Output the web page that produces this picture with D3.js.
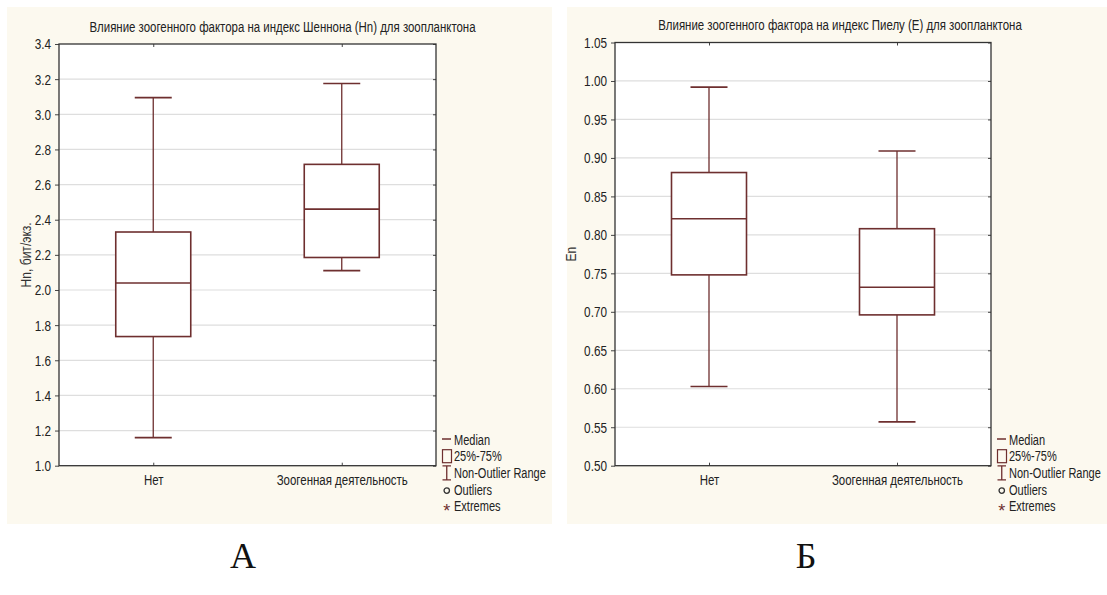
<!DOCTYPE html>
<html><head><meta charset="utf-8">
<script src="https://cdn.jsdelivr.net/npm/d3@7"></script>
<style>
html,body{margin:0;padding:0;background:#fff;}
svg{display:block;}
text{font-family:"Liberation Sans Narrow","Arial Narrow","Liberation Sans",Arial,sans-serif;}
</style></head>
<body>
<svg id="chart" width="1107" height="595"></svg>
<script>
// ---- data ----
const categories = ["Нет", "Зоогенная деятельность"];

const shannonMin    = [1.16, 2.11];
const shannonQ1     = [1.735, 2.185];
const shannonMedian = [2.04, 2.46];
const shannonQ3     = [2.33, 2.715];
const shannonMax    = [3.095, 3.175];
const shannonTicks  = [1.0, 1.2, 1.4, 1.6, 1.8, 2.0, 2.2, 2.4, 2.6, 2.8, 3.0, 3.2, 3.4];

const pielouMin    = [0.603, 0.557];
const pielouQ1     = [0.748, 0.696];
const pielouMedian = [0.821, 0.732];
const pielouQ3     = [0.881, 0.808];
const pielouMax    = [0.992, 0.909];
const pielouTicks  = [0.50, 0.55, 0.60, 0.65, 0.70, 0.75, 0.80, 0.85, 0.90, 0.95, 1.00, 1.05];

const legendLabels = ["Median", "25%-75%", "Non-Outlier Range", "Outliers", "Extremes"];

const titleA = "Влияние зоогенного фактора на индекс Шеннона (Hn) для зоопланктона";
const titleB = "Влияние зоогенного фактора на индекс Пиелу (E) для зоопланктона";
const yLabelA = "Hn, бит/экз.";
const yLabelB = "En";
const panelLetters = ["А", "Б"];

// ---- drawing ----
const svg = d3.select("#chart");
const BOX = "#6e2f2f";

// horizontally condense text around its anchor point (no narrow font installed)
function condense(sel, k) {
  sel.each(function () {
    const t = d3.select(this);
    const x = +t.attr("x") || 0, y = +t.attr("y") || 0;
    const prev = t.attr("transform") || "";
    t.attr("transform", `${prev} translate(${x},${y}) scale(${k},1) translate(${-x},${-y})`);
  });
}

function drawPanel(o) {
  const g = svg.append("g");
  g.append("rect").attr("x", o.bg[0]).attr("y", o.bg[1]).attr("width", o.bg[2]).attr("height", o.bg[3])
    .attr("fill", "#fcf9ef");

  const x = d3.scalePoint().domain(categories).range([o.left, o.right]).padding(0.5);
  const y = d3.scaleLinear().domain(o.domain).range([o.bottom, o.top]);

  g.append("rect").attr("x", o.left).attr("y", o.top).attr("width", o.right - o.left)
    .attr("height", o.bottom - o.top).attr("fill", "#fff");

  // gridlines
  g.append("g").selectAll("line").data(o.ticks.slice(1, -1)).join("line")
    .attr("x1", o.left).attr("x2", o.right)
    .attr("y1", d => y(d)).attr("y2", d => y(d))
    .attr("stroke", "#dedede").attr("stroke-width", 1.2);

  // left axis
  const ay = g.append("g").attr("transform", `translate(${o.left},0)`)
    .call(d3.axisLeft(y).tickValues(o.ticks).tickFormat(d3.format(o.fmt)).tickSize(4).tickPadding(4));
  ay.select(".domain").remove();
  ay.selectAll("line").attr("stroke", "#444");
  ay.selectAll("text").attr("font-size", 15.5).attr("fill", "#222").call(condense, 0.76);

  // right inner ticks
  const ar = g.append("g").attr("transform", `translate(${o.right},0)`)
    .call(d3.axisLeft(y).tickValues(o.ticks).tickFormat("").tickSize(3));
  ar.select(".domain").remove();
  ar.selectAll("line").attr("stroke", "#444");

  // bottom axis
  const ax = g.append("g").attr("transform", `translate(0,${o.bottom})`)
    .call(d3.axisBottom(x).tickSize(-3).tickPadding(9));
  ax.select(".domain").remove();
  ax.selectAll("line").attr("stroke", "#444");
  ax.selectAll("text").attr("font-size", 15).attr("fill", "#222").call(condense, 0.765);
  const at = g.append("g").attr("transform", `translate(0,${o.top})`)
    .call(d3.axisTop(x).tickSize(-3).tickFormat(""));
  at.select(".domain").remove();
  at.selectAll("line").attr("stroke", "#444");

  // frame
  g.append("rect").attr("x", o.left).attr("y", o.top).attr("width", o.right - o.left)
    .attr("height", o.bottom - o.top).attr("fill", "none").attr("stroke", "#333").attr("stroke-width", 1.3);

  // boxes
  const data = categories.map((c, i) => ({c, min: o.min[i], q1: o.q1[i], med: o.med[i], q3: o.q3[i], max: o.max[i]}));
  const bw = 75, cw = 37;
  const bg = g.append("g").selectAll("g").data(data).join("g");
  bg.append("line").attr("x1", d => x(d.c)).attr("x2", d => x(d.c))
    .attr("y1", d => y(d.max)).attr("y2", d => y(d.q3)).attr("stroke", BOX).attr("stroke-width", 1.3);
  bg.append("line").attr("x1", d => x(d.c)).attr("x2", d => x(d.c))
    .attr("y1", d => y(d.q1)).attr("y2", d => y(d.min)).attr("stroke", BOX).attr("stroke-width", 1.3);
  bg.append("line").attr("x1", d => x(d.c) - cw / 2).attr("x2", d => x(d.c) + cw / 2)
    .attr("y1", d => y(d.max)).attr("y2", d => y(d.max)).attr("stroke", BOX).attr("stroke-width", 1.6);
  bg.append("line").attr("x1", d => x(d.c) - cw / 2).attr("x2", d => x(d.c) + cw / 2)
    .attr("y1", d => y(d.min)).attr("y2", d => y(d.min)).attr("stroke", BOX).attr("stroke-width", 1.6);
  bg.append("rect").attr("x", d => x(d.c) - bw / 2).attr("width", bw)
    .attr("y", d => y(d.q3)).attr("height", d => y(d.q1) - y(d.q3))
    .attr("fill", "#fff").attr("stroke", BOX).attr("stroke-width", 1.6);
  bg.append("line").attr("x1", d => x(d.c) - bw / 2).attr("x2", d => x(d.c) + bw / 2)
    .attr("y1", d => y(d.med)).attr("y2", d => y(d.med)).attr("stroke", BOX).attr("stroke-width", 1.6);

  // title (centred on the panel)
  g.append("text").attr("x", o.bg[0] + o.bg[2] / 2 + 3).attr("y", o.top - 12)
    .attr("text-anchor", "middle").attr("font-size", 14.5).attr("fill", "#222").text(o.title)
    .call(condense, 0.79);

  // y label
  g.append("text").attr("transform", `translate(${o.ylx},${(o.top + o.bottom) / 2}) rotate(-90) scale(0.78,1)`)
    .attr("text-anchor", "middle").attr("font-size", 15.5).attr("fill", "#333").text(o.ylabel);

  // legend
  const lg = g.append("g").selectAll("g").data(legendLabels).join("g")
    .attr("transform", (d, i) => `translate(${o.legX},${439 + i * 16.7})`);
  lg.append("text").attr("x", 12).attr("y", 5.5).attr("font-size", 15).attr("fill", "#222").text(d => d)
    .call(condense, 0.735);
  lg.filter((d, i) => i === 0).append("line").attr("x1", 0).attr("x2", 9).attr("y1", 0).attr("y2", 0)
    .attr("stroke", BOX).attr("stroke-width", 1.5);
  lg.filter((d, i) => i === 1).append("rect").attr("x", 0.5).attr("y", -6).attr("width", 9).attr("height", 13)
    .attr("fill", "none").attr("stroke", BOX).attr("stroke-width", 1.2);
  lg.filter((d, i) => i === 2).append("path").attr("d", "M0.5,-6.5H9M4.75,-6.5V7.5M0.5,7.5H9")
    .attr("fill", "none").attr("stroke", BOX).attr("stroke-width", 1.3);
  lg.filter((d, i) => i === 3).append("circle").attr("cx", 4.75).attr("cy", 1.5).attr("r", 2.7)
    .attr("fill", "none").attr("stroke", "#333").attr("stroke-width", 1.3);
  lg.filter((d, i) => i === 4).append("text").attr("x", 4.75).attr("y", 11).attr("text-anchor", "middle")
    .attr("font-size", 18).attr("fill", BOX).text("*");

  // panel letter
  svg.append("text").attr("x", o.letterX).attr("y", 568).attr("text-anchor", "middle")
    .style("font-family", "'Liberation Serif','DejaVu Serif',serif").attr("font-size", 36).attr("fill", "#111")
    .text(o.letter);
}

drawPanel({
  bg: [7, 7, 545, 517], left: 59, right: 436, top: 44, bottom: 465.7,
  domain: [1.0, 3.4], ticks: shannonTicks, fmt: ".1f",
  min: shannonMin, q1: shannonQ1, med: shannonMedian, q3: shannonQ3, max: shannonMax,
  title: titleA, ylabel: yLabelA, ylx: 31, legX: 442, letter: panelLetters[0], letterX: 243
});
drawPanel({
  bg: [567, 7, 540, 517], left: 615, right: 991, top: 42.5, bottom: 465.7,
  domain: [0.50, 1.05], ticks: pielouTicks, fmt: ".2f",
  min: pielouMin, q1: pielouQ1, med: pielouMedian, q3: pielouQ3, max: pielouMax,
  title: titleB, ylabel: yLabelB, ylx: 576, legX: 997, letter: panelLetters[1], letterX: 806
});
</script>
</body></html>
